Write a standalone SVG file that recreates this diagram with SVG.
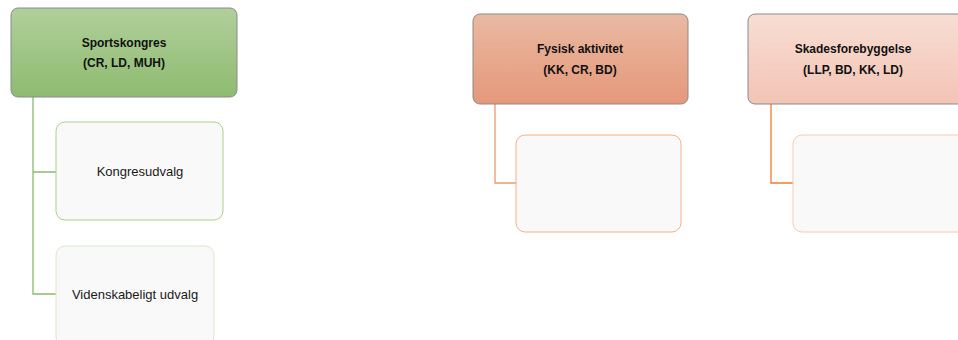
<svg xmlns="http://www.w3.org/2000/svg" width="958" height="340" viewBox="0 0 958 340">
<defs>
<linearGradient id="gGreen" x1="0" y1="0" x2="0" y2="1"><stop offset="0" stop-color="#b1cf9b"/><stop offset="1" stop-color="#8ebb70"/></linearGradient>
<linearGradient id="gOrange" x1="0" y1="0" x2="0" y2="1"><stop offset="0" stop-color="#e9b9a2"/><stop offset="1" stop-color="#e5987a"/></linearGradient>
<linearGradient id="gPeach" x1="0" y1="0" x2="0" y2="1"><stop offset="0" stop-color="#f8ded3"/><stop offset="1" stop-color="#f2c4b5"/></linearGradient>
</defs>
<style>
.t{font-family:"Liberation Sans",Arial,sans-serif;font-size:13px;fill:#1a1a1a;text-anchor:middle}
.b{font-weight:bold;font-size:12px;fill:#111}
.head{stroke:#8a8a8a;stroke-width:1}
.child{fill:#f9f9f9;stroke-width:1}
.conn{fill:none;stroke-width:1.3}
</style>
<rect width="958" height="340" fill="#ffffff"/>
<g id="connectors">
<path class="conn" stroke="#8cba6c" d="M33,97 V294 H56 M33,172 H56"/>
<path class="conn" stroke="#eb9a6a" d="M495,104 V183 H516"/>
<path class="conn" stroke="#ed7d31" d="M771,104 V183 H793"/>
</g>
<g id="sportskongres">
<rect class="head" x="11" y="8" width="226" height="89" rx="7" fill="url(#gGreen)"/>
<text class="t b" x="124" y="47">Sportskongres</text>
<text class="t b" x="124" y="67">(CR, LD, MUH)</text>
</g>
<g id="kongresudvalg">
<rect class="child" x="56" y="122" width="167" height="98" rx="9" stroke="#a9d18e"/>
<text class="t" x="140" y="176">Kongresudvalg</text>
</g>
<g id="videnskabeligt">
<rect class="child" x="56" y="246" width="158" height="100" rx="9" stroke="#d8e9cc"/>
<text class="t" x="135" y="299">Videnskabeligt udvalg</text>
</g>
<g id="fysisk">
<rect class="head" x="473" y="14" width="215" height="90" rx="7" fill="url(#gOrange)"/>
<text class="t b" x="580" y="53">Fysisk aktivitet</text>
<text class="t b" x="580" y="74">(KK, CR, BD)</text>
</g>
<g id="fysisk-child">
<rect class="child" x="516" y="135" width="165" height="97" rx="9" stroke="#f4b183"/>
</g>
<g id="skades">
<rect class="head" x="748" y="14" width="230" height="90" rx="7" fill="url(#gPeach)"/>
<text class="t b" x="853" y="53">Skadesforebyggelse</text>
<text class="t b" x="853" y="74">(LLP, BD, KK, LD)</text>
</g>
<g id="skades-child">
<rect class="child" x="793" y="135" width="185" height="97" rx="9" stroke="#f8cbad"/>
</g>
</svg>
